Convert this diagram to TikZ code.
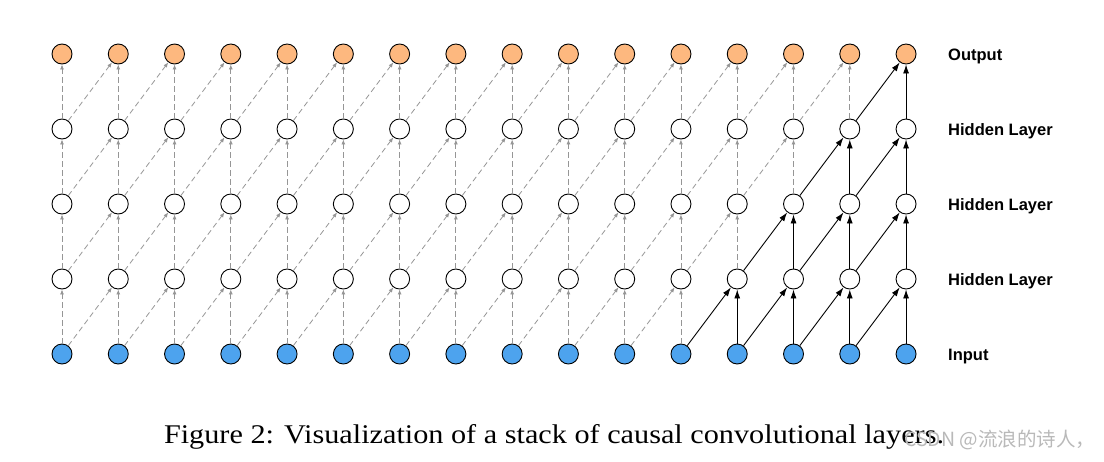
\documentclass[tikz,border=0pt]{standalone}
\usepackage{fontspec}
\setmainfont{Liberation Serif}
\setsansfont{Liberation Sans}
\newfontfamily\cjk{Noto Sans CJK SC}
\usetikzlibrary{arrows.meta}
\definecolor{outc}{RGB}{253,184,127}
\definecolor{inc}{RGB}{77,163,238}
\definecolor{dashc}{RGB}{150,150,150}
\definecolor{wmc}{RGB}{185,185,185}
\begin{document}
\begin{tikzpicture}[x=1pt,y=-1pt,
 unit/.style={circle,draw=black,line width=0.9pt,minimum size=20pt,inner sep=0pt},
 dashconn/.style={draw=dashc,dash pattern=on 5.5pt off 3.5pt,line width=0.8pt,-{Latex[length=5pt,width=4pt]}},
 solidconn/.style={draw=black,line width=0.9pt,-{Latex[length=9pt,width=6pt]}},
 lbl/.style={font=\sffamily\bfseries\fontsize{16.5}{18}\selectfont,anchor=base west,inner sep=0pt}]
\useasboundingbox (0,0) rectangle (1104,461);
% nodes
\foreach \c in {0,...,15} {
  \pgfmathsetmacro\x{62+56.27*\c}
  \node[unit,fill=inc] (n-0-\c) at (\x,354) {};
  \node[unit,fill=white] (n-1-\c) at (\x,279) {};
  \node[unit,fill=white] (n-2-\c) at (\x,204) {};
  \node[unit,fill=white] (n-3-\c) at (\x,129) {};
  \node[unit,fill=outc] (n-4-\c) at (\x,54) {};
}
% connectors
\foreach \r in {1,...,4} {
  \pgfmathtruncatemacro\p{\r-1}
  \pgfmathtruncatemacro\thr{11+\r}
  \foreach \c in {0,...,15} {
    \ifnum\c<\thr \def\st{dashconn}\else\def\st{solidconn}\fi
    \draw[\st] (n-\p-\c) -- (n-\r-\c);
    \ifnum\c>0
      \pgfmathtruncatemacro\q{\c-1}
      \draw[\st] (n-\p-\q) -- (n-\r-\c);
    \fi
  }
}
% labels
\node[lbl] (l4) at (948,60) {Output};
\node[lbl] (l3) at (948,135) {Hidden Layer};
\node[lbl] (l2) at (948,210) {Hidden Layer};
\node[lbl] (l1) at (948,285) {Hidden Layer};
\node[lbl] (l0) at (948,360) {Input};
% caption
\node[font=\fontsize{27}{30}\selectfont,inner sep=0pt,anchor=base] (cap) at (554,443) {\scalebox{1.12}[1]{Figure 2: Visualization of a stack of causal convolutional layers.}};
\node[font=\cjk\fontsize{19.5}{22}\selectfont,text=wmc,anchor=west,inner sep=0pt] (wm) at (904,440) {CSDN @流浪的诗人，};
\end{tikzpicture}
\end{document}
